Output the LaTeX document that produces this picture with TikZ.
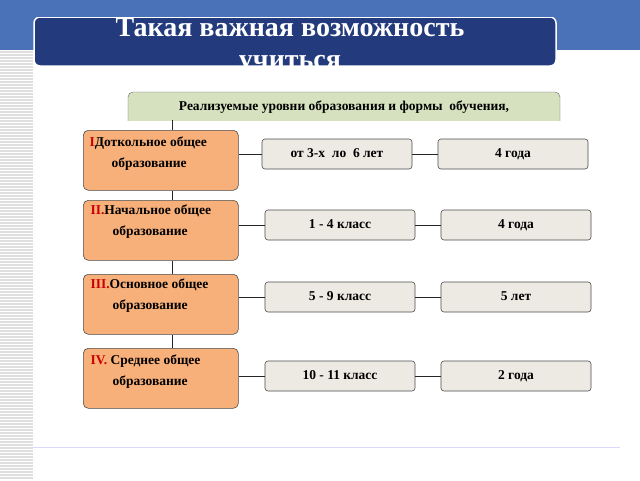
\documentclass[tikz,border=0pt]{standalone}
\usepackage{fontspec}
\setmainfont{Liberation Serif}
\usepackage{xcolor}
\usepackage{tikz}
\usetikzlibrary{calc}
\definecolor{bandblue}{HTML}{4A72B8}
\definecolor{navy}{HTML}{233A7C}
\definecolor{headgreen}{HTML}{D6E1BF}
\definecolor{levelorange}{HTML}{F8B07A}
\definecolor{termgray}{HTML}{ECEAE2}
\begin{document}
\begin{tikzpicture}[x=1pt,y=-1pt]
    \tikzstyle{level box}=[draw=black!70,semithick,fill=levelorange,rounded corners=5pt,
        minimum width=155pt,minimum height=60pt,anchor=north west]
    \tikzstyle{term box}=[draw=black!70,semithick,fill=termgray,rounded corners=3pt,
        minimum width=150pt,minimum height=30pt,text height=9pt,text depth=3pt,
        font=\bfseries\fontsize{13.5}{15}\selectfont]
    \tikzstyle{link}=[thick,color=black!85]
    \tikzstyle{level text}=[font=\bfseries\fontsize{13.5}{21}\selectfont,align=left,anchor=north west]
    \useasboundingbox (0,0) rectangle (640,480);
    \fill[white] (0,0) rectangle (640,480);
    % background band and striped margin
    \fill[bandblue] (0,0) rectangle (640,50);
    \foreach \y in {52,55,...,478}
        \draw[gray!25,line width=1.2pt] (0,\y) -- (33,\y);
    \draw[blue!15,thick] (33,447) -- (620,447);

    % title
    \begin{scope}
        \clip (33,17) rectangle (557,66);
        \draw[white,line width=1.5pt,fill=navy,rounded corners=6pt] (34,17) rectangle (556,66);
        \node[white,font=\bfseries\fontsize{28}{28}\selectfont] (title) at (290,27) {Такая важная возможность};
        \node[white,font=\bfseries\fontsize{28}{28}\selectfont] (title2) at (290,65) {учиться};
    \end{scope}

    % header
    \begin{scope}
        \clip (120,85) rectangle (570,120);
        \draw[black!60,fill=headgreen,rounded corners=5pt] (128,92) rectangle (560,130);
        \node[font=\bfseries\fontsize{13.5}{15}\selectfont] (head) at (344,107) {Реализуемые уровни образования и формы\ \ обучения,};
    \end{scope}

    % levels
    \node[level box] (L1) at (83,130) {};
    \node[level text] at ($(L1.north west)+(3,3)$) {\textcolor{red!80!black}{I}Доткольное общее\\\hspace*{22pt}образование};
    \node[level box] (L2) at (83,200) {};
    \node[level text] at ($(L2.north west)+(4,1)$) {\textcolor{red!80!black}{II.}Начальное общее\\\hspace*{22pt}образование};
    \node[level box] (L3) at (83,274) {};
    \node[level text] at ($(L3.north west)+(4,1)$) {\textcolor{red!80!black}{III.}Основное общее\\\hspace*{22pt}образование};
    \node[level box] (L4) at (83,348) {};
    \node[level text] at ($(L4.north west)+(4,3)$) {\textcolor{red!80!black}{IV.} Среднее общее\\\hspace*{22pt}образование};
    \coordinate (top) at (172,120);
    \draw[link] (top) -- (L1.north -| top);
    \draw[link] (L1.south -| top) -- (L2.north -| top);
    \draw[link] (L2.south -| top) -- (L3.north -| top);
    \draw[link] (L3.south -| top) -- (L4.north -| top);

    % ages and durations
    \node[term box] (A1) at (337,154) {от 3-х\ \ ло\ \ 6 лет};
    \node[term box] (D1) at (513,154) {4 года};
    \node[term box] (A2) at (340,225) {1 - 4 класс};
    \node[term box] (D2) at (516,225) {4 года};
    \node[term box] (A3) at (340,297) {5 - 9 класс};
    \node[term box] (D3) at (516,297) {5 лет};
    \node[term box] (A4) at (340,376) {10 - 11 класс};
    \node[term box] (D4) at (516,376) {2 года};
    \foreach \i in {1,...,4} {
        \draw[link] (L\i.east |- A\i) -- (A\i.west);
        \draw[link] (A\i.east) -- (D\i.west);
    }
\end{tikzpicture}
\end{document}
